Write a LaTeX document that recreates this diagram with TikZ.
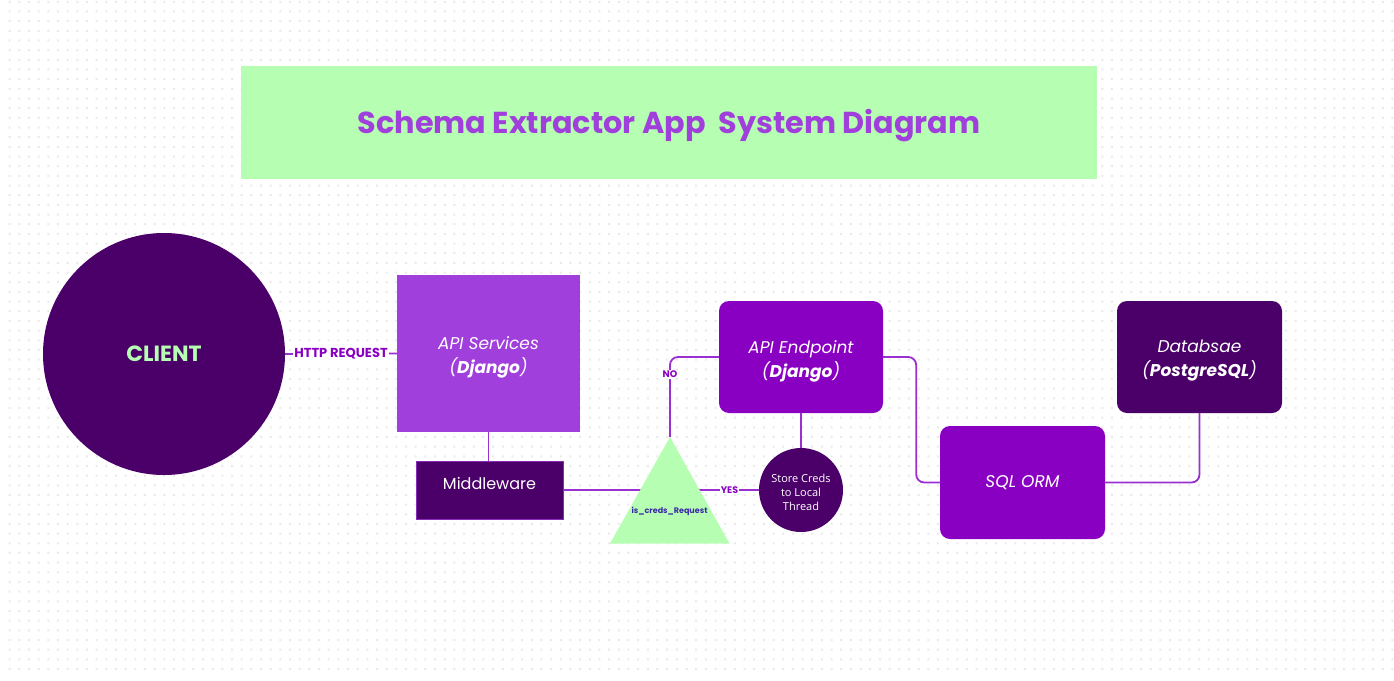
\documentclass[tikz,border=0pt]{standalone}
\usepackage{fontspec}
\setmainfont{Poppins}
\newfontfamily\bodysans{Open Sans}
\definecolor{dotgrey}{HTML}{EAEAEA}
\definecolor{lgreen}{HTML}{B6FFB2}
\definecolor{dpurple}{HTML}{4A0068}
\definecolor{mpurple}{HTML}{A03FDC}
\definecolor{vpurple}{HTML}{8A00C2}
\definecolor{linepurple}{HTML}{9A2FD2}
\definecolor{labelpurple}{HTML}{8A00C2}
\definecolor{condblue}{HTML}{3B2AA6}
\tikzset{
  conn/.style={draw=linepurple, line width=1.8pt},
  lbl/.style={font=\fontsize{13}{15}\selectfont\bfseries, text=labelpurple, fill=white, inner sep=1.5pt},
  smalllbl/.style={font=\fontsize{9.5}{11}\selectfont\bfseries, text=labelpurple, fill=white, inner sep=1pt},
  sqbox/.style={inner sep=0pt},
  rbox/.style={sqbox, rounded corners=10pt},
  boxtext/.style={inner sep=0pt, align=center, text=white, font=\fontsize{17}{24}\selectfont\itshape},
}
\begin{document}
\begin{tikzpicture}[x=1pt,y=-1pt]
  % canvas and dotted grid, one path per row
  \useasboundingbox (0,0) rectangle (1394,680);
  \fill[white] (0,0) rectangle (1394,680);
  \foreach \j in {0,...,69} {
    \fill[dotgrey] \foreach \i in {0,...,143}
      {(8.6+\i*9.67, 0.8+\j*9.67) rectangle ++(2,2)};
  }

  % title banner
  \node[fill=lgreen, minimum width=856pt, minimum height=113pt, inner sep=0pt]
       (title) at (669,122.5) {};
  \node[inner sep=0pt, text=mpurple, font=\fontsize{30.3}{34}\selectfont\bfseries]
       (titletext) at ([yshift=-3pt]title.center) {Schema Extractor App\ \ System Diagram};

  % main components
  \node[circle, fill=dpurple, minimum size=242pt, inner sep=0pt, text=lgreen,
        font=\fontsize{22}{24}\selectfont\bfseries] (client) at (164,354) {CLIENT};

  \node[sqbox, fill=mpurple, minimum width=183pt, minimum height=157pt]
       (api) at (488.5,353.5) {};
  \node[boxtext] (apitext) at ([yshift=-4pt]api.center) {API Services\\(\textbf{Django})};

  \node[sqbox, fill=dpurple, draw=mpurple!70!dpurple, line width=0.8pt,
        minimum width=147pt, minimum height=58pt] (mw) at (489.5,490) {};
  \node[boxtext, font=\fontsize{16}{20}\selectfont] (mwtext) at ([yshift=6.5pt]mw.center) {Middleware};

  \node[rbox, fill=vpurple, minimum width=164pt, minimum height=112pt]
       (endpoint) at (801,357) {};
  \node[boxtext] (endpointtext) at ([yshift=-4pt]endpoint.center) {API Endpoint\\(\textbf{Django})};

  \node[circle, fill=dpurple, minimum size=84pt, inner sep=0pt] (store) at (801,490) {};
  \node[inner sep=0pt, align=center, text=white, font=\bodysans\fontsize{11}{14}\selectfont]
       (storetext) at ([yshift=-2pt]store.center) {Store Creds\\to Local\\Thread};

  \node[rbox, fill=vpurple, minimum width=165pt, minimum height=113pt]
       (orm) at (1022.5,482.5) {};
  \node[boxtext] (ormtext) at (orm.center) {SQL ORM};

  \node[rbox, fill=dpurple, minimum width=165pt, minimum height=112pt]
       (db) at (1199.5,357) {};
  \node[boxtext] (dbtext) at ([yshift=-4pt]db.center) {Databsae\\(\textbf{PostgreSQL})};

  % connectors
  \draw[conn] (client.east) -- node[lbl] (http) {HTTP REQUEST} (api.west);
  \draw[conn] (api.south) -- (api.south |- mw.north);
  \draw[conn] (mw.east) -- node[smalllbl, pos=0.85] (yes) {YES} (store.west);
  \coordinate (condtop) at (670,437);
  \draw[conn, rounded corners=8pt] (condtop) |- node[smalllbl, pos=0.39] (no) {NO} (endpoint.west);
  \draw[conn] (endpoint.south) -- (store.north);
  \draw[conn, rounded corners=8pt] (endpoint.east) -- ++(33,0) |- (orm.west);
  \draw[conn, rounded corners=8pt] (orm.east) -| (db.south);

  % decision triangle
  \fill[lgreen] (condtop) -- (729.5,543.5) -- (610,543.5) -- cycle;
  \node[text=condblue, font=\fontsize{8}{10}\selectfont\bfseries, inner sep=0pt]
       (cond) at (669.5,511.5) {is\_creds\_Request};
\end{tikzpicture}
\end{document}
